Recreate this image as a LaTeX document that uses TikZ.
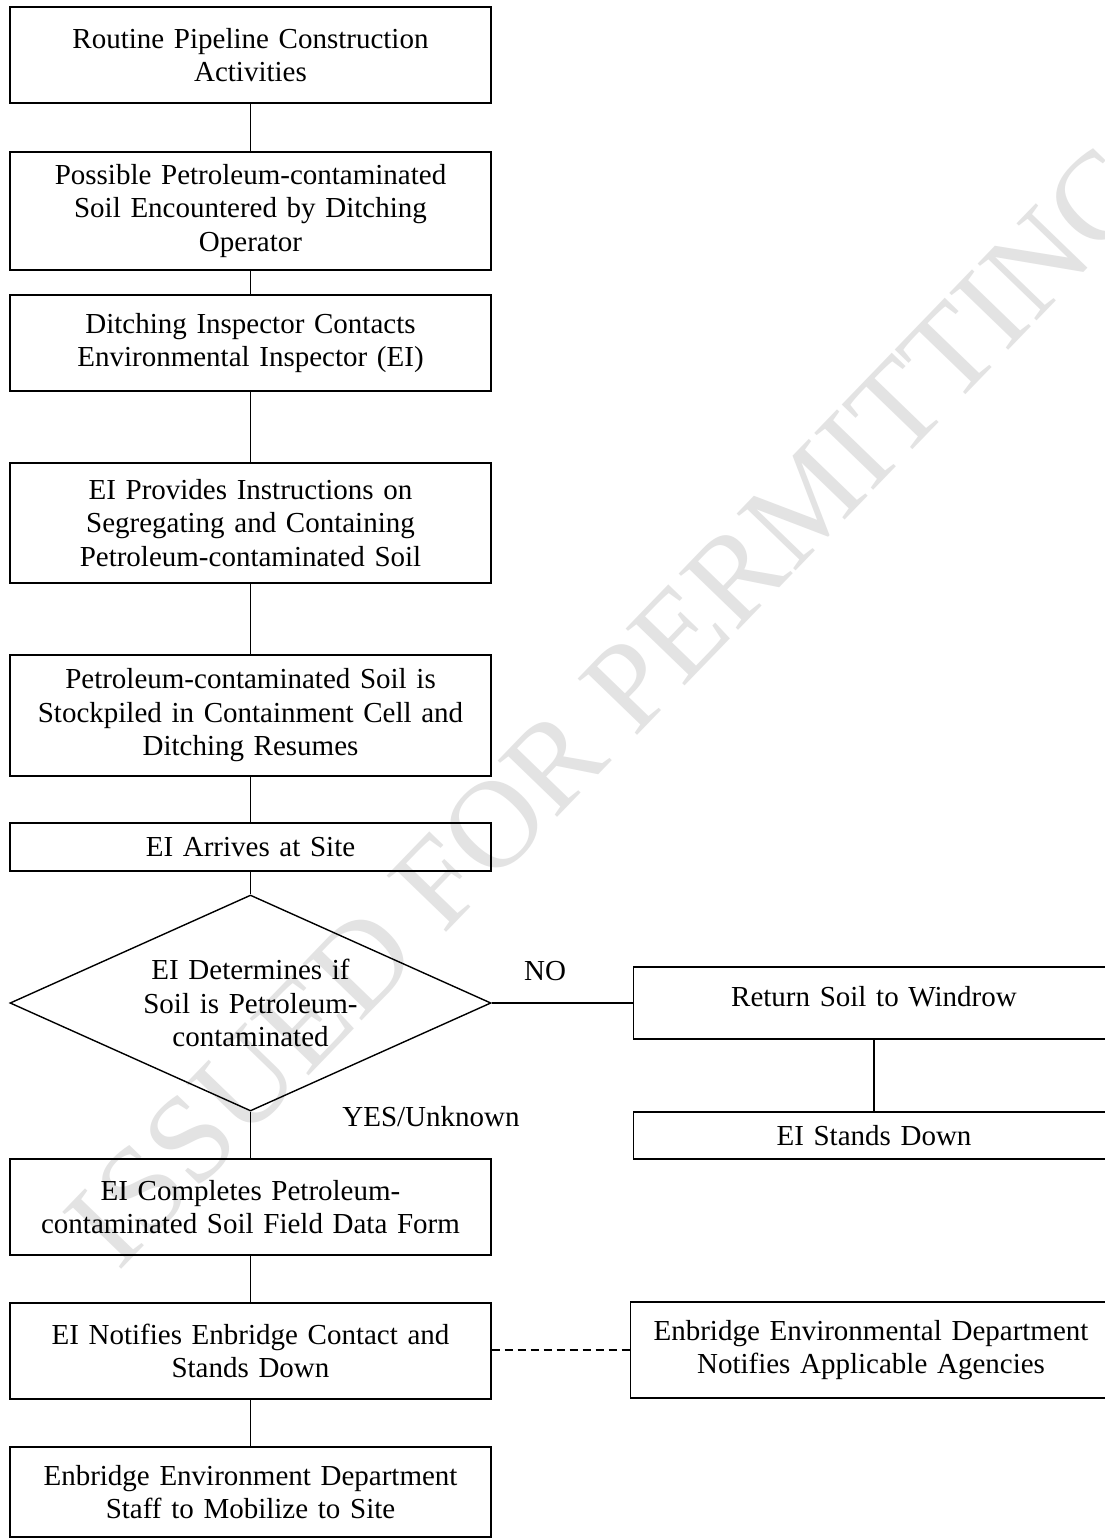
\documentclass[tikz,border=0pt]{standalone}
\usepackage{fontspec}
\setmainfont{Liberation Serif}
\usetikzlibrary{shapes.geometric}
\begin{document}
\begin{tikzpicture}[x=1pt,y=-1pt,
  txt/.style={font=\fontsize{29}{33.5}\selectfont},
  box/.style={txt,draw,line width=1.4pt,align=center,text width=470pt,inner xsep=5.5pt,inner ysep=0pt},
  conn/.style={line width=1.4pt},
  wmark/.style={text=black!11,font=\fontsize{125}{125}\selectfont,rotate=46}]
\useasboundingbox (0,0) rectangle (1104,1538);
\fill[white] (0,0) rectangle (1104,1538);
\node[wmark] (wm) at (610,705) {ISSUED FOR PERMITTING};

\node[box,minimum height=96pt] (b1) at (250.5,55) {Routine Pipeline Construction\\Activities};
\node[box,minimum height=118pt] (b2) at (250.5,211) {Possible Petroleum-contaminated\\Soil Encountered by Ditching\\Operator};
\node[box,minimum height=96pt] (b3) at (250.5,343) {Ditching Inspector Contacts\\Environmental Inspector (EI)};
\node[box,minimum height=120pt] (b4) at (250.5,523) {EI Provides Instructions on\\Segregating and Containing\\Petroleum-contaminated Soil};
\node[box,minimum height=121pt] (b5) at (250.5,715.5) {Petroleum-contaminated Soil is\\Stockpiled in Containment Cell and\\Ditching Resumes};
\node[box,minimum height=48pt] (b6) at (250.5,847) {EI Arrives at Site};
\node[txt,draw,line width=1.4pt,shape=diamond,aspect=2.2,inner sep=0pt,minimum width=481pt,minimum height=216pt,align=center,text width=240pt] (dia) at (250.5,1003) {EI Determines if\\Soil is Petroleum-\\contaminated};
\node[box,minimum height=72pt] (b8) at (874,1003) {Return Soil to Windrow\\[-21pt]\mbox{}};
\node[box,minimum height=47pt] (b9) at (874,1135.5) {EI Stands Down};
\node[box,minimum height=96pt] (b10) at (250.5,1207) {EI Completes Petroleum-\\contaminated Soil Field Data Form};
\node[box,minimum height=96pt] (b11) at (250.5,1351) {EI Notifies Enbridge Contact and\\Stands Down};
\node[box,minimum height=96pt] (b12) at (871,1350) {Enbridge Environmental Department\\Notifies Applicable Agencies};
\node[box,minimum height=90pt] (b13) at (250.5,1492) {Enbridge Environment Department\\Staff to Mobilize to Site};

\node[txt] (no) at (545,971) {NO};
\node[txt] (yes) at (431,1117) {YES/Unknown};

\draw[conn] (b1) -- (b2);
\draw[conn] (b2) -- (b3);
\draw[conn] (b3) -- (b4);
\draw[conn] (b4) -- (b5);
\draw[conn] (b5) -- (b6);
\draw[conn] (b6) -- (dia.north);
\draw[conn] (dia.south) -- (b10);
\draw[conn] (dia.east) -- (dia.east -| b8.west);
\draw[conn] (b8) -- (b9);
\draw[conn] (b10) -- (b11);
\draw[conn] (b11) -- (b13);
\draw[conn,dash pattern=on 8pt off 5pt] (b11.east |- b12.west) -- (b12.west);
\end{tikzpicture}
\end{document}
